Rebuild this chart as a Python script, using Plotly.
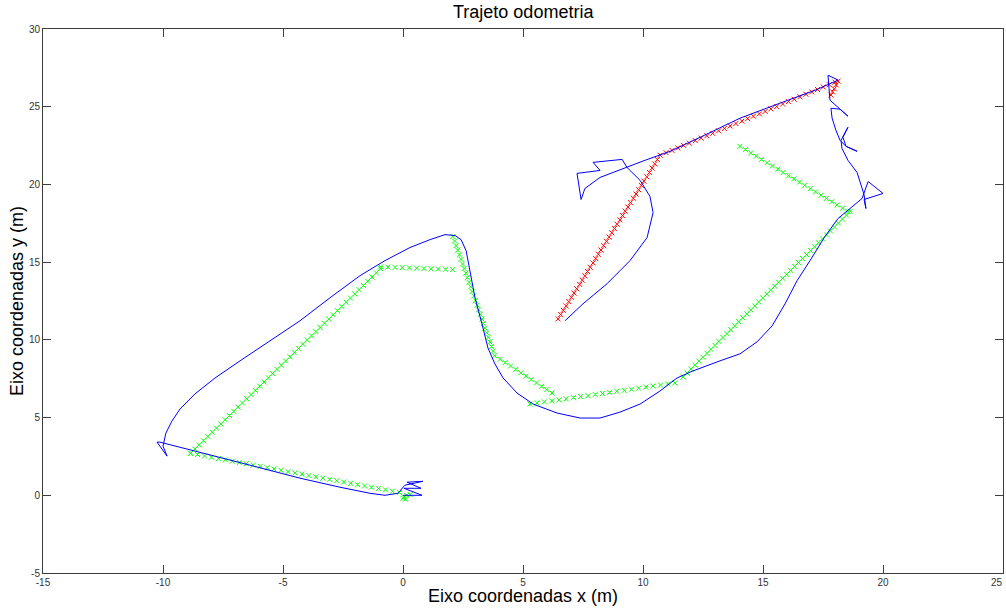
import plotly.graph_objects as go

# ---------------- data (metres) ----------------
# odometry trajectory (blue line)
odo_x = [0.0, 0.79, 0.04, 0.75, 0.17, 0.83, 0.08, -0.21, -0.75, -1.38, -2.63, -4.29, -6.38, -8.46,
         -10.13, -10.25, -9.83, -10.0, -9.88, -9.63, -9.29, -8.67, -7.83, -6.79, -5.54, -4.29, -3.04,
         -1.79, -0.75, 0.29, 1.13, 1.75, 2.17, 2.42, 2.63, 2.79, 3.0, 3.29, 3.54, 3.83, 4.17, 4.75,
         5.42, 6.42, 7.38, 8.21, 9.04, 9.88, 10.71, 11.42, 12.08, 13.21, 14.04, 14.75, 15.38, 15.92,
         16.42, 16.96, 17.58, 18.13, 18.63, 19.13, 19.38, 20.0, 19.21, 19.29, 19.21, 18.92, 18.54,
         18.29, 18.25, 18.54, 18.33, 18.46, 18.92, 18.46, 18.21, 18.04, 17.88, 17.83, 18.21, 18.54,
         18.13, 17.79, 17.75, 17.71, 18.13, 17.58, 17.17, 15.71, 14.04, 12.38, 11.13, 10.08, 9.33,
         8.21, 7.58, 7.42, 7.25, 8.21, 7.92, 9.13, 9.33, 9.88, 10.29, 10.42, 10.17, 9.46, 8.5, 7.5, 6.75]
odo_y = [0.0, 0.0, 0.45, 0.45, 0.84, 0.90, 0.65, 0.13, 0.0, 0.13, 0.52, 1.10, 1.94, 2.77,
         3.42, 3.42, 2.52, 3.16, 4.0, 4.77, 5.55, 6.52, 7.55, 8.65, 9.94, 11.23, 12.71,
         14.13, 15.10, 15.94, 16.45, 16.77, 16.71, 16.45, 15.74, 14.45, 12.71, 11.03, 9.48, 8.45, 7.55, 6.58,
         5.87, 5.29, 4.97, 4.97, 5.35, 5.87, 6.71, 7.55, 8.0, 8.65, 9.10, 9.87, 10.90, 12.32,
         13.81, 15.10, 16.65, 17.81, 18.45, 19.10, 20.19, 19.42, 19.03, 18.45, 19.35, 20.77, 21.55,
         22.32, 22.84, 23.68, 23.03, 22.45, 22.13, 22.45, 22.84, 23.48, 24.26, 24.90, 24.84, 24.39,
         24.97, 25.42, 26.19, 27.03, 26.71, 26.32, 26.06, 25.23, 24.26, 23.03, 22.13, 21.55, 21.10,
         20.45, 19.74, 19.03, 20.71, 20.90, 21.42, 21.61, 21.10, 20.26, 19.23, 18.19, 16.58, 15.10, 13.61, 12.32, 11.23]

# reference waypoints (green x markers), by segment
g0_x = [0.05, 0.10, 0.0, 0.15, 0.30]
g0_y = [-0.10, -0.25, -0.20, 0.0, 0.05]
g1_x = [-8.85, -8.56, -8.27, -7.98, -7.69, -7.40, -7.11, -6.82, -6.53, -6.24, -5.95, -5.66, -5.37, -5.08,
        -4.79, -4.50, -4.21, -3.92, -3.63, -3.34, -3.05, -2.76, -2.47, -2.18, -1.89, -1.60, -1.31, -1.02,
        -0.73, -0.44, -0.15]
g1_y = [2.70, 2.62, 2.53, 2.45, 2.36, 2.28, 2.20, 2.11, 2.03, 1.94, 1.86, 1.78, 1.69, 1.61, 1.52, 1.44,
        1.36, 1.27, 1.19, 1.10, 1.02, 0.94, 0.85, 0.77, 0.68, 0.60, 0.52, 0.43, 0.35, 0.26, 0.18]
g2_x = [-8.85, -8.67, -8.49, -8.31, -8.13, -7.95, -7.77, -7.59, -7.41, -7.23, -7.05, -6.87, -6.69, -6.51,
        -6.33, -6.15, -5.97, -5.79, -5.61, -5.43, -5.25, -5.07, -4.89, -4.71, -4.53, -4.35, -4.17, -3.99,
        -3.81, -3.63, -3.45, -3.27, -3.09, -2.91, -2.73, -2.55, -2.37, -2.19, -2.01, -1.83, -1.65, -1.47,
        -1.29, -1.11, -0.93]
g2_y = [2.70, 2.97, 3.24, 3.51, 3.78, 4.05, 4.32, 4.59, 4.86, 5.13, 5.40, 5.67, 5.94, 6.21, 6.48, 6.75,
        7.02, 7.29, 7.56, 7.83, 8.10, 8.37, 8.64, 8.91, 9.18, 9.45, 9.72, 9.99, 10.26, 10.53, 10.80, 11.07,
        11.34, 11.61, 11.88, 12.15, 12.42, 12.69, 12.96, 13.23, 13.50, 13.77, 14.04, 14.31, 14.58]
g3_x = [-0.93, -0.63, -0.33, -0.03, 0.27, 0.57, 0.87, 1.17, 1.47, 1.77, 2.07]
g3_y = [14.70, 14.68, 14.66, 14.65, 14.63, 14.61, 14.59, 14.57, 14.56, 14.54, 14.52]
g4_x = [2.08, 2.15, 2.21, 2.28, 2.35, 2.42, 2.48, 2.55, 2.62, 2.68, 2.75, 2.82, 2.88, 2.95, 3.02, 3.09,
        3.15, 3.22, 3.29, 3.35, 3.42, 3.49, 3.55, 3.62, 3.69, 3.76, 3.82,
        4.05, 4.26, 4.48, 4.70, 4.91, 5.13, 5.34, 5.56, 5.78, 5.99, 6.21]
g4_y = [16.65, 16.36, 16.06, 15.77, 15.47, 15.18, 14.88, 14.59, 14.29, 14.0, 13.70, 13.41, 13.11, 12.82,
        12.52, 12.23, 11.93, 11.64, 11.34, 11.05, 10.75, 10.46, 10.16, 9.87, 9.57, 9.28, 8.98,
        8.75, 8.54, 8.32, 8.10, 7.88, 7.67, 7.45, 7.23, 7.01, 6.80, 6.58]
g5_x = [5.29, 5.59, 5.89, 6.20, 6.50, 6.80, 7.10, 7.40, 7.71, 8.01, 8.31, 8.61, 8.91, 9.22, 9.52, 9.82,
        10.12, 10.42, 10.73, 11.03, 11.33]
g5_y = [5.87, 5.94, 6.01, 6.07, 6.14, 6.21, 6.28, 6.35, 6.41, 6.48, 6.55, 6.62, 6.69, 6.75, 6.82, 6.89,
        6.96, 7.03, 7.09, 7.16, 7.23]
g6_x = [11.67, 11.84, 12.00, 12.17, 12.33, 12.50, 12.67, 12.83, 13.00, 13.16, 13.33, 13.50, 13.66, 13.83,
        13.99, 14.16, 14.33, 14.49, 14.66, 14.82, 14.99, 15.16, 15.32, 15.49, 15.65, 15.82, 15.99, 16.15,
        16.32, 16.48, 16.65, 16.82, 16.98, 17.15, 17.31, 17.48, 17.65, 17.81, 17.98, 18.14, 18.31, 18.48,
        18.64]
g6_y = [7.61, 7.86, 8.12, 8.37, 8.63, 8.88, 9.13, 9.39, 9.64, 9.90, 10.15, 10.40, 10.66, 10.91, 11.17,
        11.42, 11.67, 11.93, 12.18, 12.44, 12.69, 12.94, 13.20, 13.45, 13.71, 13.96, 14.21, 14.47, 14.72,
        14.98, 15.23, 15.48, 15.74, 15.99, 16.25, 16.50, 16.75, 17.01, 17.26, 17.52, 17.77, 18.02, 18.28]
g7_x = [18.54, 18.32, 18.09, 17.87, 17.64, 17.42, 17.19, 16.97, 16.74, 16.52, 16.29, 16.07, 15.84, 15.62,
        15.39, 15.17, 14.94, 14.72, 14.49, 14.27, 14.04]
g7_y = [18.26, 18.47, 18.68, 18.89, 19.10, 19.31, 19.52, 19.73, 19.94, 20.15, 20.36, 20.56, 20.77, 20.98,
        21.19, 21.40, 21.61, 21.82, 22.03, 22.24, 22.45]

# red x markers
r1_x = [6.46, 6.57, 6.68, 6.80, 6.91, 7.02, 7.13, 7.24, 7.36, 7.47, 7.58, 7.69, 7.80, 7.92, 8.03, 8.14,
        8.25, 8.36, 8.48, 8.59, 8.70, 8.81, 8.92, 9.04, 9.15, 9.26, 9.37, 9.48, 9.60, 9.71, 9.82, 9.93,
        10.04, 10.16, 10.27, 10.38, 10.49, 10.60, 10.72]
r1_y = [11.35, 11.63, 11.90, 12.18, 12.46, 12.74, 13.01, 13.29, 13.57, 13.84, 14.12, 14.40, 14.67, 14.95,
        15.23, 15.51, 15.78, 16.06, 16.34, 16.61, 16.89, 17.17, 17.44, 17.72, 18.00, 18.28, 18.55, 18.83,
        19.11, 19.38, 19.66, 19.94, 20.21, 20.49, 20.77, 21.05, 21.32, 21.60, 21.88]
r2_x = [10.96, 11.21, 11.45, 11.69, 11.93, 12.18, 12.42, 12.66, 12.90, 13.15, 13.39, 13.63, 13.87, 14.12,
        14.36, 14.60, 14.85, 15.09, 15.33, 15.57, 15.82, 16.06, 16.30, 16.54, 16.79, 17.03, 17.27, 17.51,
        17.76, 18.00, 18.13, 18.05, 17.97, 17.90, 17.83]
r2_y = [22.04, 22.19, 22.35, 22.51, 22.66, 22.82, 22.98, 23.13, 23.29, 23.45, 23.60, 23.76, 23.92, 24.07,
        24.23, 24.39, 24.54, 24.70, 24.86, 25.01, 25.17, 25.33, 25.48, 25.64, 25.80, 25.95, 26.11, 26.27,
        26.42, 26.58, 26.65, 26.40, 26.15, 25.95, 25.75]

x_ticks = [-15, -10, -5, 0, 5, 10, 15, 20, 25]
y_ticks = [-5, 0, 5, 10, 15, 20, 25, 30]

title_text = "Trajeto odometria"
x_label = "Eixo coordenadas x (m)"
y_label = "Eixo coordenadas y (m)"

# ---------------- figure ----------------
FONT = "Liberation Sans, Arial, sans-serif"
TICK_FONT = dict(family=FONT, size=10, color="#333333")
fig = go.Figure()

green_x = g0_x + g1_x + g2_x + g3_x + g4_x + g5_x + g6_x + g7_x
green_y = g0_y + g1_y + g2_y + g3_y + g4_y + g5_y + g6_y + g7_y
red_x = r1_x + r2_x
red_y = r1_y + r2_y

fig.add_trace(go.Scatter(x=green_x, y=green_y, mode="markers",
                         marker=dict(symbol="x-thin-open", size=5, color="rgb(0,255,0)",
                                     line=dict(color="rgb(0,255,0)", width=1)),
                         showlegend=False, hoverinfo="skip"))
fig.add_trace(go.Scatter(x=red_x, y=red_y, mode="markers",
                         marker=dict(symbol="x-thin-open", size=5, color="rgb(255,0,0)",
                                     line=dict(color="rgb(255,0,0)", width=1)),
                         showlegend=False, hoverinfo="skip"))
fig.add_trace(go.Scatter(x=odo_x, y=odo_y, mode="lines",
                         line=dict(color="rgb(0,0,255)", width=1),
                         showlegend=False, hoverinfo="skip"))

axis_common = dict(showgrid=False, zeroline=False, showline=True, linecolor="#3c3c3c", linewidth=1,
                   mirror="ticks", ticks="inside", ticklen=8, tickcolor="#3c3c3c", tickwidth=1,
                   automargin=False, tickfont=TICK_FONT)

# last x tick label sits at the right edge of the page: drawn as an annotation so it stays inside
x_ticktext = [str(v) for v in x_ticks[:-1]] + [""]
fig.update_xaxes(range=[-15, 25], tickvals=x_ticks, ticktext=x_ticktext, **axis_common)
fig.update_yaxes(range=[-5, 30], tickvals=y_ticks, ticktext=[str(v) for v in y_ticks], **axis_common)

fig.update_layout(
    width=1006, height=610,
    margin=dict(l=43, r=3, t=29, b=37),
    paper_bgcolor="white", plot_bgcolor="white",
    annotations=[
        dict(text=title_text, xref="paper", yref="paper", x=0.5, y=1 + 17 / 544,
             xanchor="center", yanchor="middle", showarrow=False,
             font=dict(family=FONT, size=18, color="#000000")),
        dict(text=x_label, xref="paper", yref="paper", x=0.5, y=-23 / 544,
             xanchor="center", yanchor="middle", showarrow=False,
             font=dict(family=FONT, size=18, color="#000000")),
        dict(text=y_label, xref="paper", yref="paper", x=-26 / 960, y=0.5,
             xanchor="center", yanchor="middle", showarrow=False, textangle=-90,
             font=dict(family=FONT, size=18, color="#000000")),
        dict(text=str(x_ticks[-1]), xref="x", yref="paper", x=x_ticks[-1], y=-9 / 544,
             xanchor="right", yanchor="middle", xshift=2, showarrow=False, font=TICK_FONT),
    ],
)

fig.write_html("out.html", config={"displayModeBar": False},
               post_script="document.body.style.margin='0';document.body.style.overflow='hidden';")
